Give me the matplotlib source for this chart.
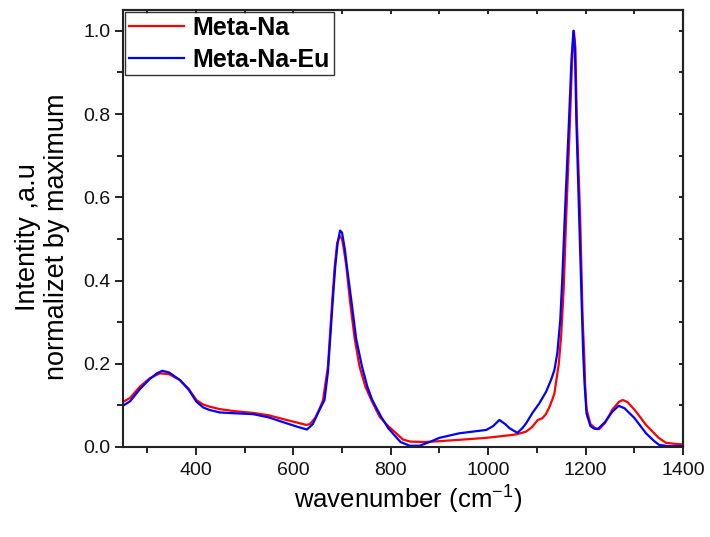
import matplotlib
matplotlib.use("Agg")
import matplotlib.pyplot as plt
from matplotlib.ticker import MultipleLocator, FormatStrFormatter

plt.rcParams["font.family"] = ["Liberation Sans", "DejaVu Sans"]
plt.rcParams["mathtext.fontset"] = "custom"
plt.rcParams["mathtext.rm"] = "Liberation Sans"
plt.rcParams["mathtext.it"] = "Liberation Sans:italic"
plt.rcParams["mathtext.bf"] = "Liberation Sans:bold"

# Meta-Na (red)
na_wn = [250, 265, 285, 305, 326, 345, 367, 385, 401, 415, 428, 449, 480, 517, 550,
         586, 610, 627, 634, 645, 655, 661, 671, 680, 685, 690, 695, 700, 704, 709,
         716, 726, 736, 748, 760, 777, 795, 811, 825, 840, 870, 900, 950, 996, 1050,
         1060, 1078, 1090, 1102, 1111, 1118, 1125, 1132, 1136, 1140, 1145, 1150, 1155,
         1160, 1168, 1172, 1176, 1179, 1182, 1189, 1194, 1197, 1199, 1202, 1210, 1220,
         1228, 1240, 1255, 1268, 1276, 1286, 1300, 1312, 1324, 1335, 1350, 1365, 1380,
         1400]
na_int = [0.108, 0.118, 0.145, 0.165, 0.177, 0.175, 0.161, 0.14, 0.113, 0.102, 0.097,
          0.091, 0.086, 0.082, 0.076, 0.065, 0.058, 0.053, 0.055, 0.07, 0.095, 0.113,
          0.193, 0.353, 0.433, 0.49, 0.507, 0.5, 0.473, 0.433, 0.353, 0.26, 0.193,
          0.145, 0.113, 0.073, 0.05, 0.033, 0.018, 0.013, 0.012, 0.014, 0.018, 0.022,
          0.029, 0.031, 0.037, 0.048, 0.065, 0.069, 0.078, 0.094, 0.115, 0.129, 0.161,
          0.2, 0.27, 0.38, 0.546, 0.786, 0.92, 1.0, 0.96, 0.786, 0.546, 0.305, 0.226,
          0.15, 0.09, 0.055, 0.045, 0.043, 0.058, 0.09, 0.108, 0.113, 0.108, 0.09,
          0.072, 0.053, 0.04, 0.022, 0.01, 0.008, 0.006]

# Meta-Na-Eu (blue)
eu_wn = [250, 265, 285, 305, 320, 331, 345, 367, 385, 401, 415, 428, 449, 480, 517,
         550, 586, 610, 628, 640, 652, 664, 671, 681, 686, 691, 696, 700, 706, 710,
         719, 729, 741, 752, 762, 780, 795, 804, 820, 839, 859, 880, 900, 941, 996,
         1010, 1023, 1035, 1044, 1060, 1070, 1078, 1091, 1105, 1119, 1129, 1136, 1142,
         1148, 1152, 1157, 1166, 1171, 1175, 1178, 1181, 1187, 1193, 1195, 1198, 1202,
         1210, 1218, 1225, 1240, 1255, 1268, 1280, 1300, 1324, 1340, 1351, 1370, 1400]
eu_int = [0.099, 0.11, 0.139, 0.163, 0.177, 0.183, 0.179, 0.161, 0.138, 0.109, 0.095,
          0.089, 0.083, 0.081, 0.079, 0.071, 0.057, 0.048, 0.042, 0.055, 0.085, 0.113,
          0.18, 0.353, 0.433, 0.49, 0.52, 0.515, 0.473, 0.433, 0.353, 0.26, 0.193,
          0.145, 0.113, 0.073, 0.045, 0.033, 0.012, 0.003, 0.003, 0.012, 0.022, 0.033,
          0.041, 0.05, 0.065, 0.055, 0.045, 0.034, 0.045, 0.057, 0.082, 0.105, 0.133,
          0.161, 0.185, 0.226, 0.305, 0.4, 0.546, 0.786, 0.93, 1.0, 0.96, 0.786, 0.546,
          0.305, 0.226, 0.15, 0.08, 0.05, 0.044, 0.043, 0.06, 0.085, 0.099, 0.093,
          0.07, 0.033, 0.015, 0.005, 0.002, 0.002]

fig = plt.figure(figsize=(7.1, 5.37), dpi=100)
ax = fig.add_axes([0.173, 0.1676, 0.789, 0.8138])

ax.plot(na_wn, na_int, color="#ff0000", lw=1.6, label="Meta-Na")
ax.plot(eu_wn, eu_int, color="#0000ff", lw=1.6, label="Meta-Na-Eu")

ax.set_xlim(250, 1400)
ax.set_ylim(0, 1.05)
ax.xaxis.set_major_locator(MultipleLocator(200))
ax.xaxis.set_minor_locator(MultipleLocator(100))
ax.yaxis.set_major_locator(MultipleLocator(0.2))
ax.yaxis.set_minor_locator(MultipleLocator(0.1))
ax.yaxis.set_major_formatter(FormatStrFormatter("%.1f"))

ax.tick_params(which="both", direction="out", labelsize=14, width=1.2,
               top=False, right=False, labelcolor="#111111")
ax.tick_params(which="major", length=6)
ax.tick_params(which="minor", length=4)
ax.tick_params(axis="x", pad=5)
ax.tick_params(axis="y", pad=3)

# short inward ticks on the top and right frame
sec_x = ax.secondary_xaxis("top")
sec_x.xaxis.set_major_locator(MultipleLocator(100))
sec_x.tick_params(direction="in", length=3, width=1.2, labeltop=False)
sec_y = ax.secondary_yaxis("right")
sec_y.yaxis.set_major_locator(MultipleLocator(0.1))
sec_y.tick_params(direction="in", length=3, width=1.2, labelright=False)
for s in ax.spines.values():
    s.set_linewidth(1.5)
    s.set_color("#222222")
sec_x.spines["top"].set_linewidth(1.5)
sec_y.spines["right"].set_linewidth(1.5)

ax.set_xlabel("wavenumber (cm$^{-1}$)", fontsize=18.5)
ax.xaxis.set_label_coords(0.509, -0.085)
ax.set_ylabel("Intentity ,a.u\nnormalizet by maximum", fontsize=19.5, linespacing=1.15)
ax.yaxis.set_label_coords(-0.094, 0.48)

leg = ax.legend(loc="upper left", prop={"weight": "bold", "size": 18},
                frameon=True, fancybox=False, borderaxespad=0.1, handlelength=2.2,
                handletextpad=0.35, borderpad=0.15, labelspacing=0.3)
leg.get_frame().set_edgecolor("black")
leg.get_frame().set_linewidth(1.0)

fig.savefig("out.png", dpi=100)
